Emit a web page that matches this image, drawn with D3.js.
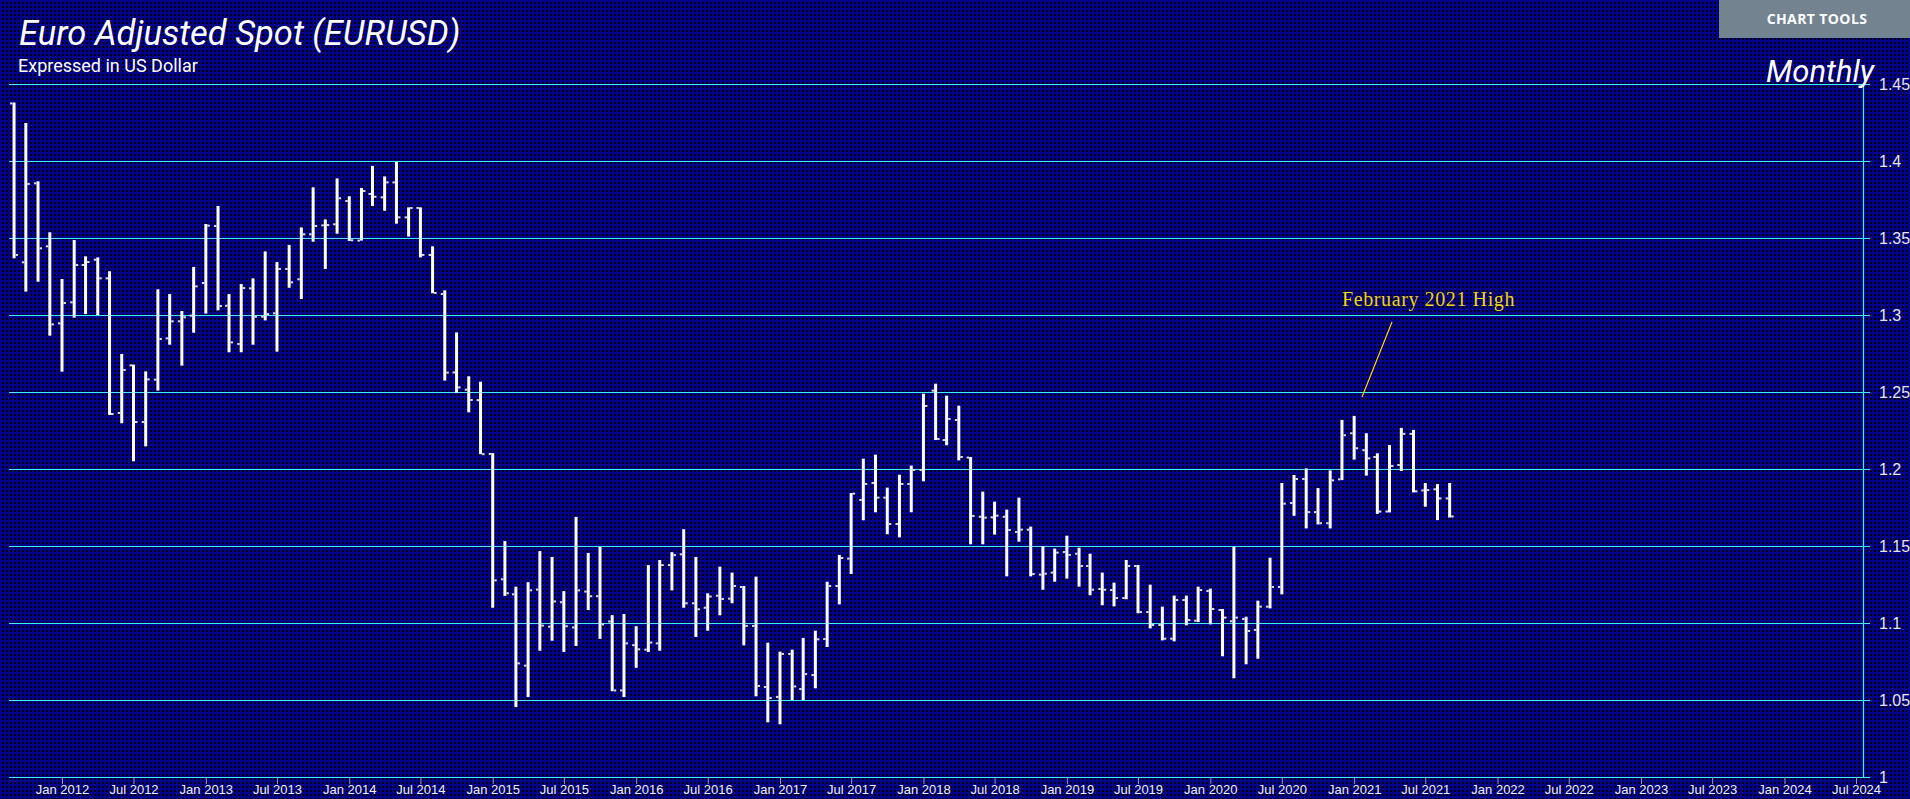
<!DOCTYPE html>
<html>
<head>
<meta charset="utf-8">
<script src="https://cdn.jsdelivr.net/npm/d3@7"></script>
<style>
  html, body { margin: 0; padding: 0; background: #000; overflow: hidden; }
  svg { display: block; }
</style>
</head>
<body>
<svg id="chart" width="1910" height="799"></svg>
<script>
// ---------------- DATA ----------------
const months = [
  "2011-09","2011-10","2011-11","2011-12",
  "2012-01","2012-02","2012-03","2012-04","2012-05","2012-06","2012-07","2012-08","2012-09","2012-10","2012-11","2012-12",
  "2013-01","2013-02","2013-03","2013-04","2013-05","2013-06","2013-07","2013-08","2013-09","2013-10","2013-11","2013-12",
  "2014-01","2014-02","2014-03","2014-04","2014-05","2014-06","2014-07","2014-08","2014-09","2014-10","2014-11","2014-12",
  "2015-01","2015-02","2015-03","2015-04","2015-05","2015-06","2015-07","2015-08","2015-09","2015-10","2015-11","2015-12",
  "2016-01","2016-02","2016-03","2016-04","2016-05","2016-06","2016-07","2016-08","2016-09","2016-10","2016-11","2016-12",
  "2017-01","2017-02","2017-03","2017-04","2017-05","2017-06","2017-07","2017-08","2017-09","2017-10","2017-11","2017-12",
  "2018-01","2018-02","2018-03","2018-04","2018-05","2018-06","2018-07","2018-08","2018-09","2018-10","2018-11","2018-12",
  "2019-01","2019-02","2019-03","2019-04","2019-05","2019-06","2019-07","2019-08","2019-09","2019-10","2019-11","2019-12",
  "2020-01","2020-02","2020-03","2020-04","2020-05","2020-06","2020-07","2020-08","2020-09","2020-10","2020-11","2020-12",
  "2021-01","2021-02","2021-03","2021-04","2021-05","2021-06","2021-07","2021-08","2021-09"
];
const openV = [
  1.4374,1.3342,1.3855,1.3446,
  1.2946,1.3082,1.3325,1.3359,1.3238,1.2364,1.2673,1.2305,1.2580,1.2848,1.2959,1.2996,
  1.3208,1.3578,1.3060,1.2812,1.3173,1.2989,1.3011,1.3299,1.3232,1.3524,1.3582,1.3589,
  1.3740,1.3483,1.3786,1.3764,1.3861,1.3634,1.3695,1.3390,1.3136,1.2627,1.2515,1.2447,
  1.2098,1.1284,1.1186,1.0723,1.1217,1.0976,1.1135,1.0971,1.1204,1.1174,1.1010,1.0562,
  1.0856,1.0827,1.0868,1.1376,1.1446,1.1128,1.1099,1.1177,1.1158,1.1234,1.0981,1.0584,
  1.0520,1.0799,1.0571,1.0662,1.0896,1.1240,1.1418,1.1799,1.1909,1.1814,1.1643,1.1903,
  1.1994,1.2509,1.2188,1.2318,1.2074,1.1690,1.1686,1.1690,1.1591,1.1606,1.1314,1.1327,
  1.1461,1.1450,1.1370,1.1221,1.1214,1.1162,1.1370,1.1071,1.0987,1.0898,1.1149,1.1015,
  1.1208,1.1084,1.1011,1.1026,1.0955,1.1106,1.1234,1.1779,1.1935,1.1720,1.1648,1.1933,
  1.2232,1.2122,1.2078,1.1724,1.2026,1.2228,1.1861,1.1868,1.1809
];
const highV = [
  1.4380,1.4247,1.3868,1.3537,
  1.3234,1.3487,1.3381,1.3374,1.3284,1.2747,1.2678,1.2634,1.3167,1.3136,1.3026,1.3312,
  1.3591,1.3708,1.3136,1.3201,1.3238,1.3413,1.3344,1.3455,1.3569,1.3829,1.3621,1.3887,
  1.3771,1.3825,1.3968,1.3900,1.3994,1.3699,1.3699,1.3446,1.3160,1.2887,1.2602,1.2567,
  1.2103,1.1532,1.1236,1.1265,1.1467,1.1429,1.1207,1.1689,1.1455,1.1494,1.1051,1.1058,
  1.0979,1.1376,1.1409,1.1460,1.1609,1.1429,1.1193,1.1366,1.1327,1.1240,1.1301,1.0872,
  1.0814,1.0827,1.0903,1.0950,1.1268,1.1442,1.1844,1.2067,1.2093,1.1879,1.1963,1.2022,
  1.2489,1.2554,1.2476,1.2411,1.2078,1.1853,1.1788,1.1736,1.1814,1.1626,1.1500,1.1483,
  1.1567,1.1489,1.1450,1.1327,1.1262,1.1409,1.1377,1.1249,1.1106,1.1178,1.1178,1.1236,
  1.1223,1.1091,1.1496,1.1041,1.1145,1.1424,1.1909,1.1961,1.2004,1.1876,1.1991,1.2319,
  1.2345,1.2232,1.2102,1.2156,1.2267,1.2254,1.1909,1.1902,1.1909
];
const lowV = [
  1.3368,1.3152,1.3216,1.2866,
  1.2632,1.2983,1.3006,1.3000,1.2351,1.2297,1.2050,1.2147,1.2509,1.2807,1.2671,1.2885,
  1.3009,1.3030,1.2758,1.2758,1.2807,1.2965,1.2762,1.3177,1.3104,1.3476,1.3299,1.3528,
  1.3481,1.3483,1.3708,1.3677,1.3593,1.3509,1.3374,1.3141,1.2574,1.2494,1.2368,1.2096,
  1.1099,1.1176,1.0454,1.0519,1.0820,1.0885,1.0812,1.0851,1.1084,1.0897,1.0557,1.0519,
  1.0709,1.0812,1.0820,1.1212,1.1099,1.0909,1.0950,1.1050,1.1128,1.0855,1.0524,1.0355,
  1.0342,1.0500,1.0500,1.0576,1.0844,1.1121,1.1318,1.1667,1.1719,1.1576,1.1556,1.1719,
  1.1920,1.2188,1.2154,1.2056,1.1511,1.1511,1.1574,1.1303,1.1528,1.1303,1.1216,1.1268,
  1.1288,1.1236,1.1180,1.1115,1.1108,1.1154,1.1063,1.0965,1.0887,1.0881,1.0985,1.1006,
  1.0991,1.0784,1.0641,1.0732,1.0768,1.1095,1.1186,1.1696,1.1614,1.1640,1.1614,1.1928,
  1.2061,1.1957,1.1709,1.1718,1.1987,1.1848,1.1755,1.1668,1.1685
];
const closeV = [
  1.3390,1.3851,1.3433,1.2939,
  1.3078,1.3325,1.3344,1.3238,1.2357,1.2643,1.2305,1.2582,1.2844,1.2959,1.2985,1.3186,
  1.3580,1.3058,1.2822,1.3175,1.2989,1.3006,1.3299,1.3212,1.3524,1.3578,1.3584,1.3758,
  1.3485,1.3805,1.3768,1.3861,1.3634,1.3695,1.3390,1.3143,1.2626,1.2530,1.2448,1.2096,
  1.1277,1.1193,1.0738,1.1212,1.0983,1.1140,1.0979,1.1212,1.1174,1.0991,1.0562,1.0868,
  1.0829,1.0873,1.1376,1.1441,1.1128,1.1089,1.1172,1.1156,1.1240,1.0981,1.0591,1.0513,
  1.0799,1.0588,1.0668,1.0894,1.1240,1.1422,1.1840,1.1903,1.1814,1.1643,1.1903,1.1994,
  1.2409,1.2195,1.2325,1.2078,1.1695,1.1684,1.1697,1.1604,1.1606,1.1318,1.1320,1.1457,
  1.1442,1.1370,1.1216,1.1216,1.1162,1.1370,1.1071,1.0987,1.0898,1.1149,1.1019,1.1214,
  1.1091,1.1035,1.1035,1.0948,1.1106,1.1234,1.1775,1.1935,1.1720,1.1648,1.1926,1.2219,
  1.2135,1.2069,1.1724,1.2020,1.2228,1.1855,1.1863,1.1809,1.1692
];
const yTickValues = [1, 1.05, 1.1, 1.15, 1.2, 1.25, 1.3, 1.35, 1.4, 1.45];
const xTickLabels = ["Jan 2012","Jul 2012","Jan 2013","Jul 2013","Jan 2014","Jul 2014","Jan 2015","Jul 2015",
  "Jan 2016","Jul 2016","Jan 2017","Jul 2017","Jan 2018","Jul 2018","Jan 2019","Jul 2019","Jan 2020",
  "Jul 2020","Jan 2021","Jul 2021","Jan 2022","Jul 2022","Jan 2023","Jul 2023","Jan 2024","Jul 2024"];
const titleText = "Euro Adjusted Spot (EURUSD)";
const subtitleText = "Expressed in US Dollar";
const periodText = "Monthly";
const annotationText = "February 2021 High";
const buttonText = "CHART TOOLS";

// ---------------- CHART ----------------
const svg = d3.select("#chart");
const W = 1910, H = 799;

// background mesh pattern
const defs = svg.append("defs");
const pat = defs.append("pattern").attr("id", "mesh")
  .attr("patternUnits", "userSpaceOnUse").attr("width", 4).attr("height", 4);
pat.append("rect").attr("width", 4).attr("height", 4).attr("fill", "#000005");
pat.append("rect").attr("x", 0).attr("y", 0).attr("width", 4).attr("height", 2).attr("fill", "#00008c");
pat.append("rect").attr("x", 0).attr("y", 0).attr("width", 2).attr("height", 4).attr("fill", "#00008c");
svg.append("rect").attr("width", W).attr("height", H).attr("fill", "url(#mesh)");

const parseMonth = d3.timeParse("%Y-%m");
const parseTick = d3.timeParse("%b %Y");
const data = months.map((m, i) => ({
  date: parseMonth(m), o: openV[i], h: highV[i], l: lowV[i], c: closeV[i]
}));

const x = d3.scaleTime()
  .domain([parseTick("Jan 2012"), parseTick("Jul 2024")])
  .range([62, 1856]);
const y = d3.scaleLinear().domain([1, 1.45]).range([777, 84]);

const gridLeft = 9, axisX = 1863;
const cyan = "#3ef0f0";

// horizontal gridlines
const grid = svg.append("g").attr("transform", `translate(${gridLeft},0)`)
  .call(d3.axisRight(y).tickValues(yTickValues).tickSize(axisX + 7 - gridLeft).tickFormat(""));
grid.select(".domain").remove();
grid.selectAll(".tick line").attr("stroke", cyan).attr("stroke-width", 1.2);

// right axis
const yAxis = svg.append("g").attr("transform", `translate(${axisX},0)`)
  .call(d3.axisRight(y).tickValues(yTickValues).tickSize(0).tickSizeOuter(0).tickPadding(16)
    .tickFormat(d => d3.format("")(+d.toFixed(2))));
yAxis.select(".domain").attr("stroke", cyan).attr("stroke-width", 1.2);
yAxis.selectAll(".tick text")
  .attr("fill", "#e6e6e6").attr("font-family", "'Liberation Sans', Arial, sans-serif")
  .attr("font-size", 16);

// bottom axis
const xAxis = svg.append("g").attr("transform", `translate(0,${y(1)})`)
  .call(d3.axisBottom(x).tickValues(xTickLabels.map(parseTick)).tickSize(7).tickPadding(1)
    .tickFormat(d3.timeFormat("%b %Y")));
xAxis.select(".domain").remove();
xAxis.selectAll(".tick line").attr("stroke", "#9a9aa8");
xAxis.selectAll(".tick text")
  .attr("fill", "#f0f0f0").attr("font-family", "'Liberation Sans Narrow', 'Liberation Sans', sans-serif")
  .attr("font-size", 13);

// OHLC bars
const bars = svg.append("g");
const g = bars.selectAll("g.bar").data(data).enter().append("g").attr("class", "bar");
g.append("line")
  .attr("x1", d => x(d.date)).attr("x2", d => x(d.date))
  .attr("y1", d => y(d.h)).attr("y2", d => y(d.l))
  .attr("stroke", "#ffffff").attr("stroke-width", 3);
g.append("rect")
  .attr("x", d => x(d.date) - 4).attr("y", d => y(d.o) - 1)
  .attr("width", 2.5).attr("height", 2).attr("fill", "#dcdcdc");
g.append("rect")
  .attr("x", d => x(d.date) + 1.5).attr("y", d => y(d.c) - 1)
  .attr("width", 2.5).attr("height", 2).attr("fill", "#dcdcdc");

// annotation
svg.append("line")
  .attr("x1", 1392).attr("y1", 322).attr("x2", 1362).attr("y2", 397)
  .attr("stroke", "#ffd800").attr("stroke-width", 1.2);
svg.append("text").attr("x", 1342).attr("y", 306)
  .attr("fill", "#f2d400").attr("font-family", "'Liberation Serif', 'DejaVu Serif', serif")
  .attr("font-size", 20).attr("letter-spacing", 0.6).text(annotationText);

// titles
svg.append("text").attr("x", 19).attr("y", 45)
  .attr("fill", "#ffffff").attr("font-family", "Roboto, sans-serif")
  .attr("font-style", "italic").attr("font-weight", 400).attr("font-size", 34.5).text(titleText);
svg.append("text").attr("x", 18).attr("y", 72)
  .attr("fill", "#ffffff").attr("font-family", "Roboto, sans-serif")
  .attr("font-size", 18).text(subtitleText);
svg.append("text").attr("x", 1874).attr("y", 82).attr("text-anchor", "end")
  .attr("fill", "#ffffff").attr("font-family", "Roboto, sans-serif")
  .attr("font-style", "italic").attr("font-size", 31).text(periodText);

// chart tools button
svg.append("rect").attr("x", 1719).attr("y", 0).attr("width", W - 1719).attr("height", 38)
  .attr("fill", "#738390");
svg.append("text").attr("x", 1817).attr("y", 24).attr("text-anchor", "middle")
  .attr("fill", "#ffffff").attr("font-family", "'Open Sans', sans-serif")
  .attr("font-weight", 700).attr("font-size", 14).attr("letter-spacing", 0.4).text(buttonText);
</script>
</body>
</html>
